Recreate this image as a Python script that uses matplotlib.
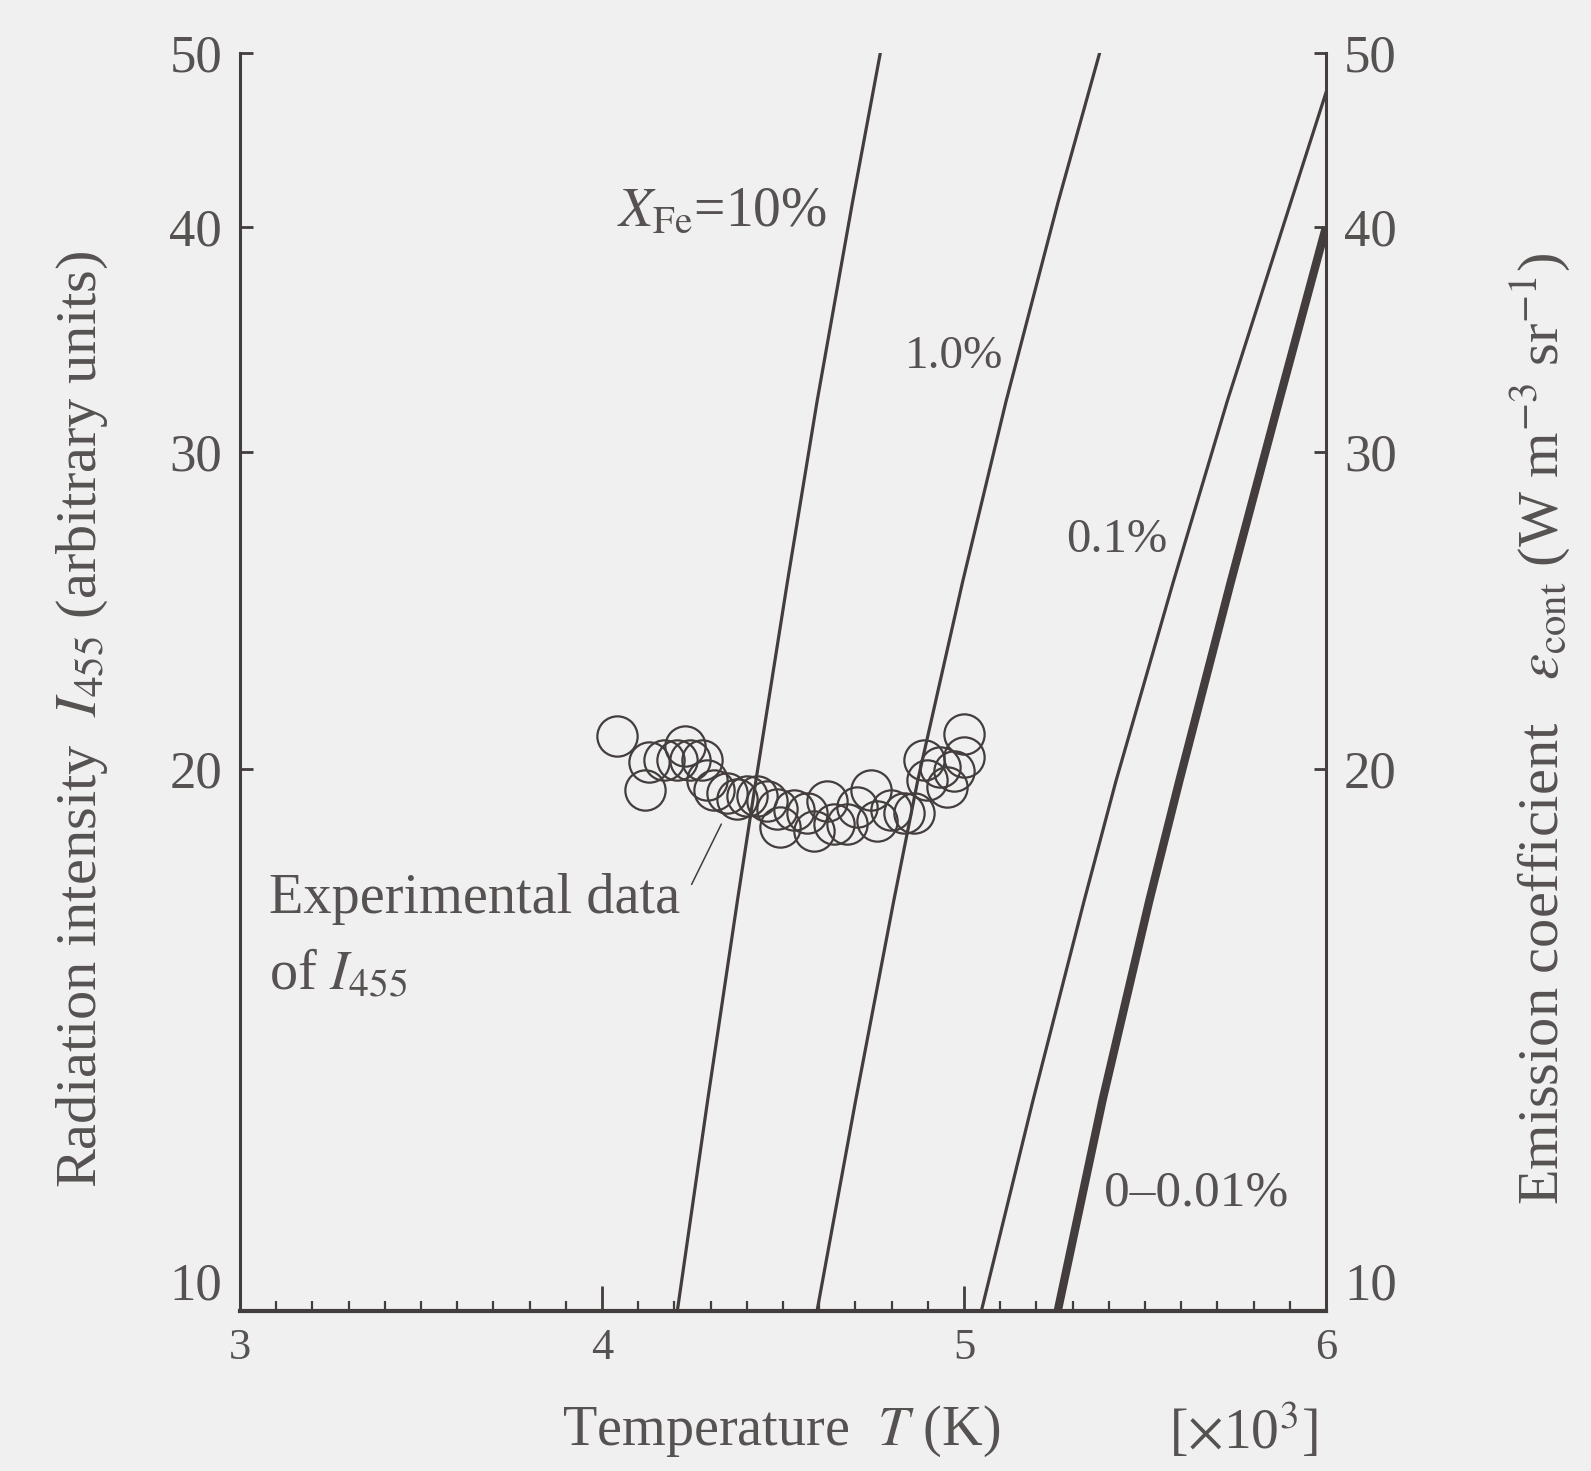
import matplotlib
matplotlib.use("Agg")
import matplotlib.pyplot as plt
from matplotlib.ticker import FixedLocator, MultipleLocator, NullLocator

# Calculated curves: temperature (x10^3 K) vs radiation intensity, per Fe fraction
t_fe10 = [4.208, 4.292, 4.374, 4.425, 4.512, 4.594, 4.692, 4.769]
i_fe10 = [10.0, 13.1, 16.9, 19.7, 25.4, 32.0, 41.3, 50.0]

t_fe1 = [4.594, 4.701, 4.806, 4.872, 4.996, 5.116, 5.260, 5.375]
i_fe1 = [10.0, 13.1, 16.9, 19.7, 25.4, 32.0, 41.3, 50.0]

t_fe01 = [5.048, 5.191, 5.332, 5.420, 5.578, 5.727, 5.903, 6.0]
i_fe01 = [10.0, 13.1, 16.9, 19.7, 25.4, 32.0, 41.3, 47.5]

t_fe0 = [5.259, 5.383, 5.512, 5.595, 5.737, 5.870, 6.0]
i_fe0 = [10.0, 13.1, 16.9, 19.7, 25.4, 32.0, 40.0]

# Experimental data of I455
exp_t = [4.041, 4.120, 4.129, 4.170, 4.207, 4.230, 4.244, 4.276, 4.290, 4.308,
         4.345, 4.373, 4.400, 4.428, 4.456, 4.484, 4.493, 4.530, 4.567, 4.585,
         4.622, 4.640, 4.677, 4.705, 4.742, 4.760, 4.797, 4.834, 4.861, 4.889,
         4.898, 4.935, 4.954, 4.972, 5.000, 5.000]
exp_i = [20.87, 19.46, 20.17, 20.22, 20.22, 20.61, 20.22, 20.22, 19.71, 19.46,
         19.39, 19.26, 19.31, 19.31, 19.21, 19.01, 18.56, 18.97, 18.91, 18.48,
         19.21, 18.65, 18.65, 19.05, 19.46, 18.72, 18.97, 18.91, 18.91, 20.22,
         19.71, 20.04, 19.54, 19.96, 20.30, 20.93]

x_ticks = [3, 4, 5, 6]
y_ticks = [10, 20, 30, 40, 50]
y_labels = ["10", "20", "30", "40", "50"]

ink = "#433d3d"
txt = "#575252"
bg = "#f1f0f0"

plt.rcParams["font.family"] = "Liberation Serif"
plt.rcParams["mathtext.fontset"] = "stix"
plt.rcParams["text.color"] = txt
plt.rcParams["axes.labelcolor"] = txt

fig = plt.figure(figsize=(15.91, 14.71), dpi=100, facecolor=bg)
ax = fig.add_axes([0.1509, 0.1088, 0.6825, 0.8554])
ax.set_facecolor(bg)

ax.plot(exp_t, exp_i, "o", ms=29, mfc="none", mec=ink, mew=1.6, zorder=2)

ax.plot(t_fe10, i_fe10, color=ink, lw=2.3, zorder=3)
ax.plot(t_fe1, i_fe1, color=ink, lw=2.3, zorder=3)
ax.plot(t_fe01, i_fe01, color=ink, lw=2.3, zorder=3)
ax.plot(t_fe0, i_fe0, color=ink, lw=6, solid_capstyle="butt", zorder=3)

ax.set_yscale("log")
ax.set_xlim(3, 6)
ax.set_ylim(10, 50)
ax.xaxis.set_major_locator(FixedLocator(x_ticks))
ax.xaxis.set_minor_locator(MultipleLocator(0.1))
ax.set_xticklabels([str(v) for v in x_ticks])
ax.yaxis.set_major_locator(FixedLocator(y_ticks))
ax.yaxis.set_minor_locator(NullLocator())
ax.set_yticklabels(y_labels)

for side in ["top", "right"]:
    ax.spines[side].set_visible(False)
ax.spines["left"].set_linewidth(2.2)
ax.spines["bottom"].set_linewidth(3)
for s in ax.spines.values():
    s.set_color(ink)

ax.tick_params(axis="x", which="major", direction="in", length=18, width=2,
               labelsize=32, pad=12, color=ink, labelcolor=txt)
ax.tick_params(axis="x", which="minor", direction="in", length=7, width=1.6, color=ink)
ax.tick_params(axis="y", which="major", direction="in", length=9, width=2,
               labelsize=38, pad=13, color=ink, labelcolor=txt)

# right-hand axis (emission coefficient)
ax2 = ax.twinx()
ax2.set_yscale("log")
ax2.set_ylim(10, 50)
ax2.yaxis.set_major_locator(FixedLocator(y_ticks))
ax2.yaxis.set_minor_locator(NullLocator())
ax2.set_yticklabels(y_labels)
for side in ["top", "left", "bottom"]:
    ax2.spines[side].set_visible(False)
ax2.spines["right"].set_linewidth(2.2)
ax2.spines["right"].set_color(ink)
ax2.tick_params(axis="y", which="major", direction="in", length=9, width=2,
                labelsize=38, pad=13, color=ink, labelcolor=txt)

ax.get_yticklabels()[0].set_va("bottom")
ax2.get_yticklabels()[0].set_va("bottom")

# axis titles
ax.set_ylabel(r"Radiation intensity  $I_{455}$ (arbitrary units)", fontsize=42, va="center")
ax.yaxis.set_label_coords(-0.145, 0.47)
ax2.set_ylabel(r"Emission coefficient   $\varepsilon_{\rm cont}$ (W m$^{-3}$ sr$^{-1}$)",
               fontsize=42, rotation=90, va="center")
ax2.yaxis.set_label_coords(1.198, 0.463)
ax.set_xlabel(r"Temperature  $T$ (K)", fontsize=40.5, va="center")
ax.xaxis.set_label_coords(0.498, -0.0954)
ax.text(0.9236, -0.0954, r"[$\times$10$^3$]", transform=ax.transAxes,
        fontsize=40, ha="center", va="center")

# curve labels
ax.text(4.623, 40.1, r"$X_{\rm Fe}$=10%", fontsize=40, ha="right", va="baseline")
ax.text(5.109, 33.4, "1.0%", fontsize=34, ha="right", va="baseline")
ax.text(5.562, 26.4, "0.1%", fontsize=35, ha="right", va="baseline")
ax.text(5.386, 11.45, "0\u20130.01%", fontsize=37, ha="left", va="baseline")

ax.text(3.080, 16.63, "Experimental data", fontsize=40.5, ha="left", va="baseline")
ax.text(3.080, 15.1, r"of $I_{455}$", fontsize=40.5, ha="left", va="baseline")
ax.annotate("", xy=(4.333, 18.7), xytext=(4.244, 17.2),
            arrowprops=dict(arrowstyle="-", color=ink, lw=1.1))

fig.savefig("out.png", dpi=100, facecolor=bg)
